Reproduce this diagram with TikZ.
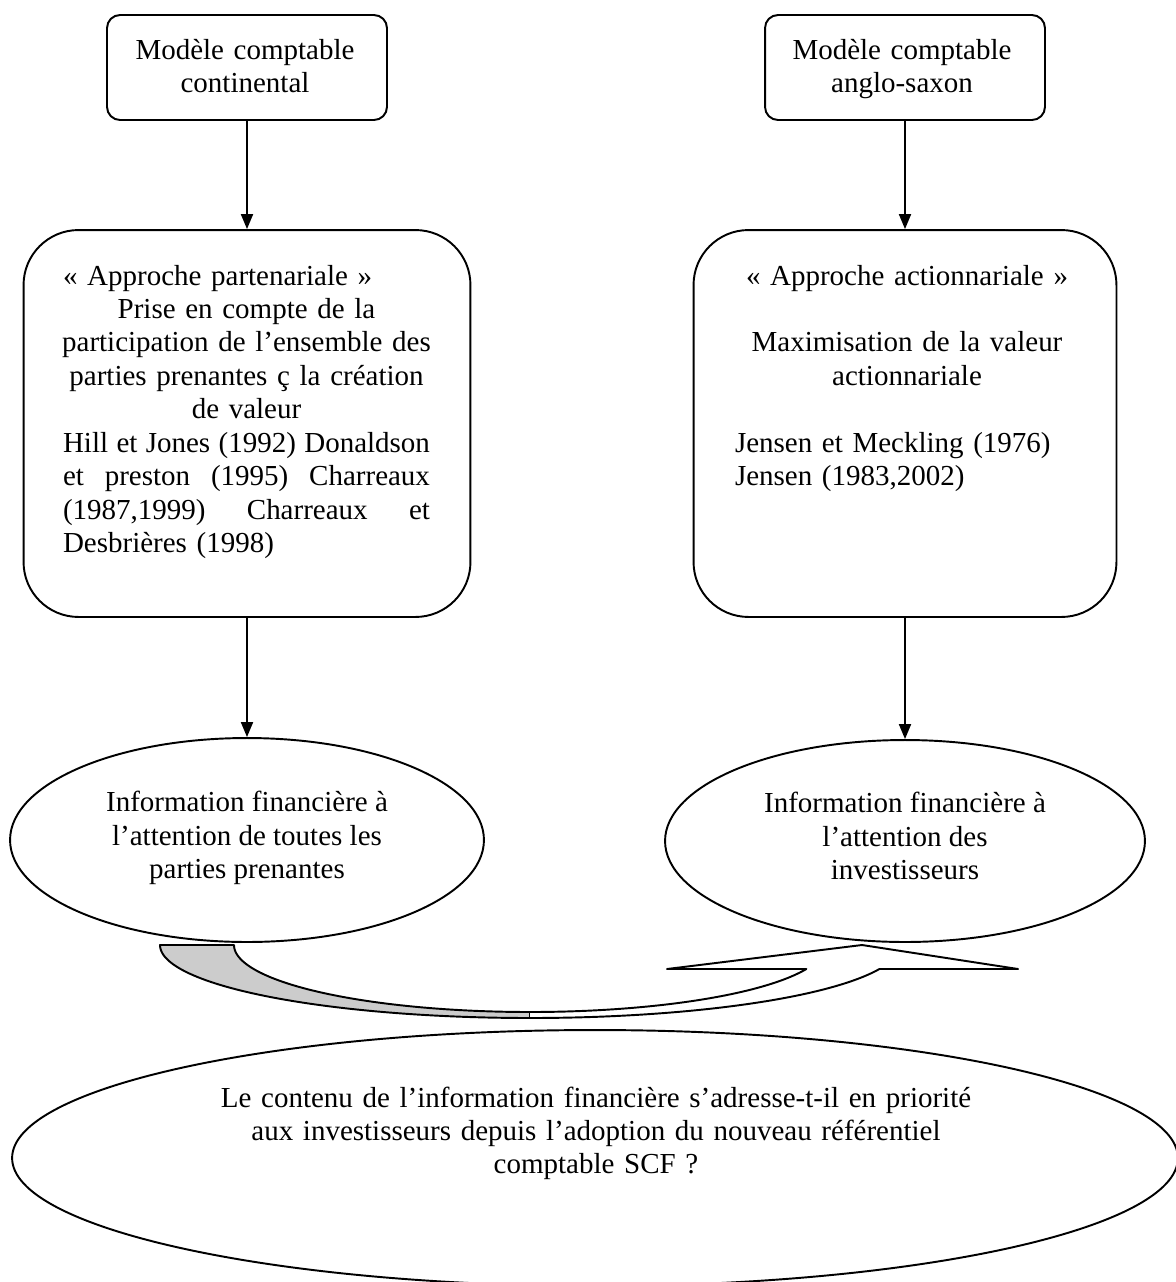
\documentclass[tikz,border=0pt]{standalone}
\usepackage{fontspec}
\setmainfont{Liberation Serif}
\usetikzlibrary{shapes.geometric,arrows.meta}
\definecolor{bandgray}{RGB}{204,204,204}
\newlength\colL \setlength\colL{7.34cm}
\newlength\colR \setlength\colR{6.88cm}
% a justified line of fixed width
\newcommand\justline[2]{\leavevmode\hbox to #1{\spaceskip=0.2em plus 1fil minus 0.06em\relax #2}}
\begin{document}
\begin{tikzpicture}[x=0.02cm,y=-0.02cm,
  every node/.style={font=\fontsize{16.5}{19.06}\selectfont},
  model/.style={draw, line width=1.1pt, rounded corners=0.26cm, minimum width=5.6cm,
    minimum height=2.1cm, inner sep=0pt},
  approach/.style={draw, line width=1.1pt, rounded corners=1.1cm, minimum height=7.74cm, inner sep=0pt},
  info/.style={draw, ellipse, line width=1.1pt, inner sep=0pt, align=center},
  txt/.style={anchor=base, inner sep=0pt, align=left},
  flow/.style={line width=1.1pt, -{Triangle[length=0.3cm,width=0.24cm]}},
  band/.style={line width=1.1pt, line join=round}
]
\useasboundingbox (0,0) rectangle (1176,1282);

% accounting models
\node[model] (mcont) at (247,67.5) {};
\node[model] (manglo) at (905,67.5) {};
\node[txt, text width=5.2cm, align=center] (tcont) at (245,59) {Modèle comptable\\continental};
\node[txt, text width=5.2cm, align=center] (tanglo) at (902,59) {Modèle comptable\\anglo-saxon};

% approaches
\node[approach, minimum width=8.94cm] (apart) at (247,423.5) {};
\node[approach, minimum width=8.46cm] (aact) at (905,423.5) {};

\node[txt, text width=\colL] (tpart) at (246.5,285) {%
\makebox[\colL][l]{« Approche partenariale »}\\
\makebox[\colL][c]{Prise en compte de la}\\
\makebox[\colL][c]{participation de l’ensemble des}\\
\makebox[\colL][c]{parties prenantes ç la création}\\
\makebox[\colL][c]{de valeur}\\
\justline{\colL}{Hill et Jones (1992) Donaldson}\\
\justline{\colL}{et preston (1995) Charreaux}\\
\justline{\colL}{(1987,1999) Charreaux et}\\
\makebox[\colL][l]{Desbrières (1998)}};

\node[txt, text width=\colR] (tact) at (907,285) {%
\makebox[\colR][c]{« Approche actionnariale »}\\[19.06pt]
\makebox[\colR][c]{Maximisation de la valeur}\\
\makebox[\colR][c]{actionnariale}\\[19.06pt]
\makebox[\colR][l]{Jensen et Meckling (1976)}\\
\makebox[\colR][l]{Jensen (1983,2002)}};

% financial information
\node[info, minimum width=9.48cm, minimum height=4.08cm] (iall) at (247,840)
  {Information financière à\\l’attention de toutes les\\parties prenantes\strut};
\node[info, minimum width=9.6cm, minimum height=4.04cm] (iinv) at (905,841)
  {Information financière à\\l’attention des\\investisseurs\strut};

% research question
\node[info, minimum width=23.32cm, minimum height=5.12cm] (quest) at (595,1158) {};
\node[txt, text width=15.6cm, align=center] (tquest) at (596,1107)
  {Le contenu de l’information financière s’adresse-t-il en priorité\\
   aux investisseurs depuis l’adoption du nouveau référentiel\\
   comptable SCF ?};

% vertical flows
\draw[flow] (mcont) -- (apart);
\draw[flow] (apart) -- (iall);
\draw[flow] (manglo) -- (aact);
\draw[flow] (aact) -- (iinv);

% curved up arrow: shaded underside
\filldraw[fill=bandgray, band] (234,945) -- (160,945)
  -- plot[domain=180:90, samples=60, variable=\t] ({530+370*cos(\t)},{945+73*sin(\t)})
  -- plot[domain=90:180, samples=60, variable=\t] ({530+296*cos(\t)},{945+67*sin(\t)})
  -- cycle;
% curved up arrow: upper face and head
\fill[white] plot[domain=90:19.19, samples=60, variable=\t] ({530+370*cos(\t)},{945+73*sin(\t)})
  -- (1018,969) -- (862,945) -- (667,969)
  -- plot[domain=20.99:90, samples=60, variable=\t] ({530+296*cos(\t)},{945+67*sin(\t)})
  -- cycle;
\draw[band] plot[domain=90:19.19, samples=60, variable=\t] ({530+370*cos(\t)},{945+73*sin(\t)})
  -- (1018,969) -- (862,945) -- (667,969)
  -- plot[domain=20.99:90, samples=60, variable=\t] ({530+296*cos(\t)},{945+67*sin(\t)});
\end{tikzpicture}
\end{document}
